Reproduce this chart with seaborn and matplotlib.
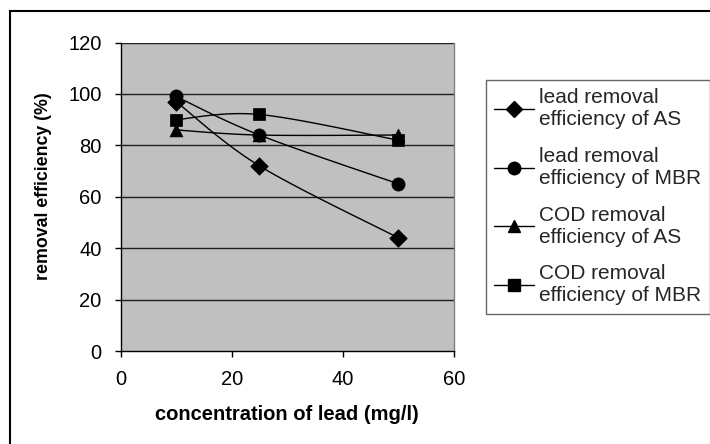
import numpy as np
import pandas as pd
import matplotlib
matplotlib.use("Agg")
import matplotlib.pyplot as plt
import seaborn as sns
from matplotlib.lines import Line2D
from matplotlib.patches import Rectangle

# ---- data ----
concentration = [10, 25, 50]
lead_as = [97, 72, 44]
lead_mbr = [99, 84, 65]
cod_as = [86, 84, 84]
cod_mbr = [90, 92, 82]
series_names = ["lead removal\nefficiency of AS", "lead removal\nefficiency of MBR",
                "COD removal\nefficiency of AS", "COD removal\nefficiency of MBR"]
x_ticks = [0, 20, 40, 60]
y_ticks = [0, 20, 40, 60, 80, 100, 120]

sns.set_theme(style="white")
plt.rcParams["font.family"] = ["Liberation Sans", "DejaVu Sans"]

df = pd.DataFrame({
    "x": concentration * 4,
    "y": lead_as + lead_mbr + cod_as + cod_mbr,
    "series": sum([[n] * len(concentration) for n in series_names], []),
})
markers = {series_names[0]: "D", series_names[1]: "o", series_names[2]: "^", series_names[3]: "s"}
msizes = {series_names[0]: 80, series_names[1]: 90, series_names[2]: 85, series_names[3]: 72}

fig = plt.figure(figsize=(7.1, 4.44), dpi=100)
ax = fig.add_axes([120.5 / 710, 1 - 351 / 444, (454 - 120.5) / 710, (351 - 42.5) / 444])
ax.set_facecolor("#C0C0C0")


def smooth(xs, ys, n=40):
    # Excel-like smoothed line (Catmull-Rom bezier) through the data points
    P = np.column_stack([xs, ys]).astype(float)
    out = []
    for i in range(len(P) - 1):
        p0 = P[i - 1] if i > 0 else P[i]
        p1, p2 = P[i], P[i + 1]
        p3 = P[i + 2] if i + 2 < len(P) else P[i + 1]
        c1 = p1 + (p2 - p0) / 6.0
        c2 = p2 - (p3 - p1) / 6.0
        t = np.linspace(0, 1, n)[:, None]
        seg = ((1 - t) ** 3) * p1 + 3 * ((1 - t) ** 2) * t * c1 + 3 * (1 - t) * t ** 2 * c2 + t ** 3 * p2
        out.append(seg)
    s = np.vstack(out)
    return s[:, 0], s[:, 1]


# gridlines
for yv in y_ticks[1:]:
    ax.axhline(yv, color="#202020", lw=1.0, zorder=1)

for name in series_names:
    sub = df[df["series"] == name]
    sx, sy = smooth(sub["x"].values, sub["y"].values)
    ax.plot(sx, sy, color="black", lw=1.0, zorder=2)

for name in series_names:
    sub = df[df["series"] == name]
    sns.scatterplot(data=sub, x="x", y="y", marker=markers[name], s=msizes[name],
                    color="black", edgecolor="black", linewidth=0.5, ax=ax, zorder=3, legend=False)

ax.set_xlim(0, 60)
ax.set_ylim(0, 120)
ax.set_xticks(x_ticks)
ax.set_yticks(y_ticks)
ax.tick_params(axis="both", which="both", direction="out", length=4.5, width=1, color="black",
               labelsize=14.5, left=True, bottom=True)
ax.tick_params(axis="x", pad=9)
ax.tick_params(axis="y", pad=9)
for lab in ax.get_xticklabels() + ax.get_yticklabels():
    lab.set_color("black")

ax.spines["left"].set_color("black")
ax.spines["bottom"].set_color("black")
ax.spines["right"].set_color("#808080")
ax.spines["top"].set_visible(False)
for sp in ax.spines.values():
    sp.set_linewidth(1.0)

ax.set_xlabel("concentration of lead (mg/l)", fontsize=14.5, fontweight="bold", labelpad=12, color="black")
ax.set_ylabel("removal efficiency (%)", fontsize=12.8, fontweight="bold", labelpad=11.5, color="black")
ax.yaxis.label.set_y(0.535)

handles = [Line2D([0], [0], color="black", lw=1.0, marker=markers[n],
                  markersize={"D": 8.5, "o": 9, "^": 9, "s": 8}[markers[n]],
                  markerfacecolor="black", markeredgecolor="black") for n in series_names]
leg = fig.legend(handles, series_names, loc="upper left",
                 bbox_to_anchor=(486 / 710, 1 - 80 / 444),
                 bbox_transform=fig.transFigure, frameon=True, fancybox=False,
                 fontsize=15, handlelength=1.9, handletextpad=0.25, labelspacing=0.85,
                 borderaxespad=0, borderpad=0.4, edgecolor="#404040")
leg.get_frame().set_linewidth(1.0)

fig.patches.append(Rectangle((10 / 710, -0.05), 1.0, 1 - 11 / 444 + 0.05, transform=fig.transFigure,
                             fill=False, edgecolor="black", lw=1.5))

fig.savefig("out.png", dpi=100)
